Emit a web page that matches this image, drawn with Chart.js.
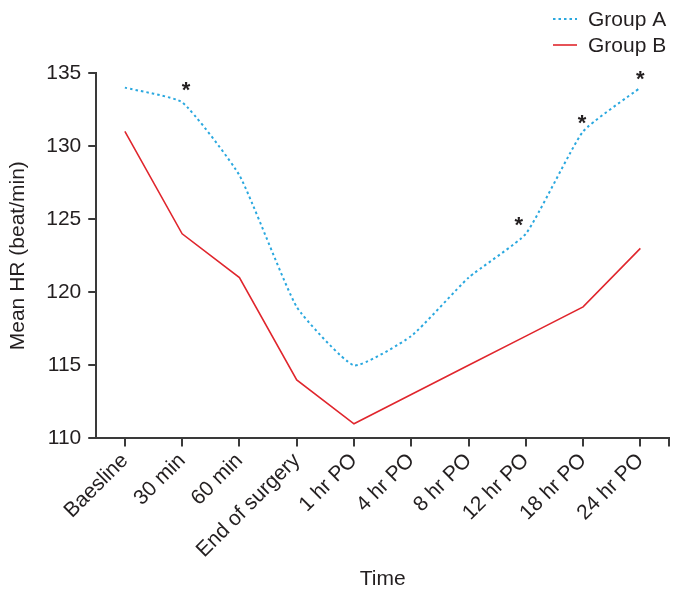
<!DOCTYPE html>
<html lang="en">
  <head>
    <meta charset="UTF-8" />
    <title>Mean HR</title>
    <script src="https://cdn.jsdelivr.net/npm/chart.js"></script>
    <style>
      html, body { margin: 0; padding: 0; background: #fff; }
    </style>
  </head>
  <body>
    <canvas id="myChart" width="682" height="598"></canvas>
    <script>
      const timePoints = [
        "Baesline",
        "30 min",
        "60 min",
        "End of surgery",
        "1 hr PO",
        "4 hr PO",
        "8 hr PO",
        "12 hr PO",
        "18 hr PO",
        "24 hr PO",
      ];
      const groupA = [134, 133, 128, 119, 115, 117, 121, 124, 131, 134];
      const groupB = [131, 124, 121, 114, 111, 113, 115, 117, 119, 123];
      // indices of time points marked with * (Group A)
      const significant = [1, 7, 8, 9];

      const textColor = "#231f20";
      const axisColor = "#3a3a3a";
      const font = { family: "'Liberation Sans', Arial, sans-serif", size: 21 };

      // legend stacked at the top right
      const legendPlugin = {
        id: "stackedLegend",
        afterDraw(chart) {
          const c = chart.ctx;
          c.save();
          chart.data.datasets.forEach((ds, i) => {
            const y = 19 + i * 26;
            c.beginPath();
            c.strokeStyle = ds.borderColor;
            c.lineWidth = ds.borderWidth;
            c.setLineDash(ds.borderDash || []);
            c.moveTo(553, y);
            c.lineTo(577, y);
            c.stroke();
            c.setLineDash([]);
            c.fillStyle = textColor;
            c.font = font.size + "px " + font.family;
            c.textAlign = "left";
            c.textBaseline = "middle";
            c.fillText(ds.label, 588, y + 1);
          });
          c.restore();
        },
      };

      // asterisks above Group A + the closing tick at the end of the x axis
      const markPlugin = {
        id: "marks",
        afterDatasetsDraw(chart) {
          const c = chart.ctx;
          const meta = chart.getDatasetMeta(0);
          const shift = { 1: [4, -14], 7: [-7, -11], 8: [-1, -10], 9: [0, -11] };
          c.save();
          c.fillStyle = textColor;
          c.font = "bold 22px " + font.family;
          c.textAlign = "center";
          c.textBaseline = "alphabetic";
          significant.forEach((i) => {
            const p = meta.data[i];
            const s = shift[i] || [0, -11];
            c.fillText("*", p.x + s[0], p.y + s[1] + 9);
          });
          const a = chart.chartArea;
          c.beginPath();
          c.strokeStyle = axisColor;
          c.lineWidth = 2;
          c.moveTo(a.right, a.bottom);
          c.lineTo(a.right, a.bottom + 8);
          c.stroke();
          c.restore();
        },
      };

      const ctx = document.getElementById("myChart").getContext("2d");
      const myChart = new Chart(ctx, {
        type: "line",
        data: {
          labels: timePoints,
          datasets: [
            {
              label: "Group A",
              data: groupA,
              borderColor: "#2aa8df",
              borderWidth: 2,
              borderDash: [2.5, 3],
              tension: 0.15,
              pointRadius: 0,
              fill: false,
            },
            {
              label: "Group B",
              data: groupB,
              borderColor: "#e0262d",
              borderWidth: 1.6,
              tension: 0,
              pointRadius: 0,
              fill: false,
            },
          ],
        },
        options: {
          responsive: false,
          animation: false,
          events: [],
          layout: { padding: { top: 73, right: 13, left: 6, bottom: 6 } },
          plugins: {
            legend: { display: false },
            tooltip: { enabled: false },
          },
          scales: {
            x: {
              offset: true,
              border: { color: axisColor, width: 2 },
              grid: {
                drawOnChartArea: false,
                drawTicks: true,
                tickLength: 8,
                color: axisColor,
                lineWidth: 2,
              },
              ticks: {
                color: textColor,
                font: font,
                minRotation: 45,
                maxRotation: 45,
                padding: 2,
                autoSkip: false,
              },
              title: {
                display: true,
                text: "Time",
                color: textColor,
                font: font,
                padding: { top: 2, bottom: 0 },
              },
            },
            y: {
              min: 110,
              max: 135,
              border: { color: axisColor, width: 2 },
              grid: {
                drawOnChartArea: false,
                drawTicks: true,
                tickLength: 8,
                color: axisColor,
                lineWidth: 2,
              },
              ticks: {
                stepSize: 5,
                color: textColor,
                font: font,
                padding: 7,
              },
              title: {
                display: true,
                text: "Mean HR (beat/min)",
                color: textColor,
                font: font,
                padding: { top: 0, bottom: 8 },
              },
            },
          },
        },
        plugins: [legendPlugin, markPlugin],
      });
    </script>
  </body>
</html>
